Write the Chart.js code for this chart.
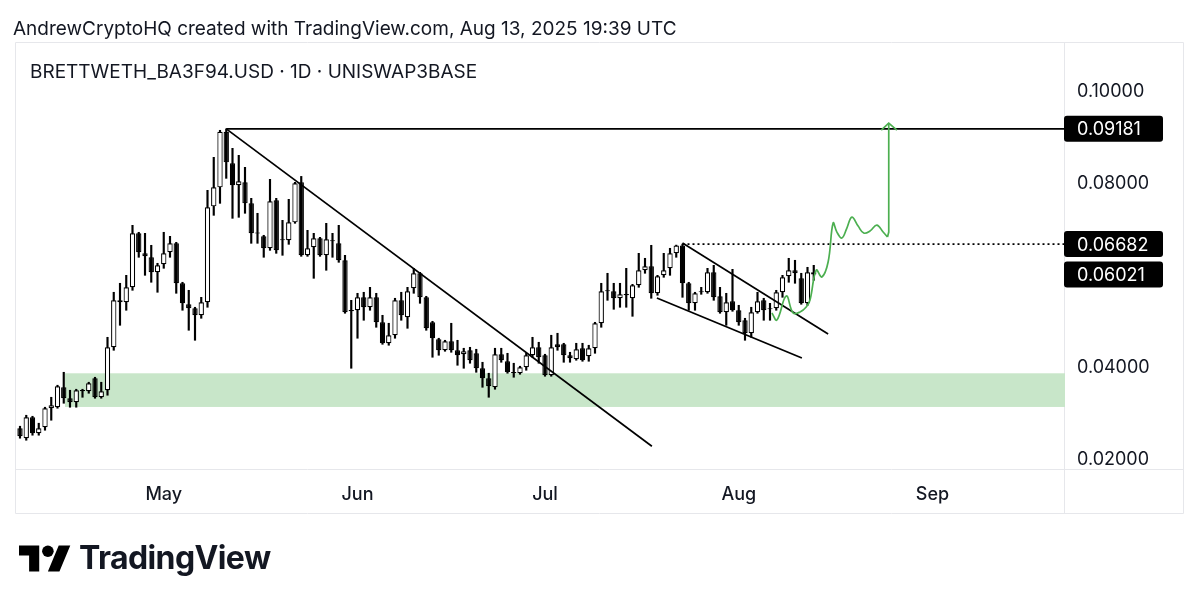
<!DOCTYPE html>
<html>
<head>
<meta charset="utf-8">
<script src="https://cdn.jsdelivr.net/npm/chart.js@4.4.0/dist/chart.umd.min.js"></script>
<style>
  html, body { margin: 0; padding: 0; background: #fff; }
  body { width: 1200px; height: 609px; position: relative; overflow: hidden; font-family: Inter, 'Noto Sans', sans-serif; color: #131722; }
  #wrap { position: absolute; left: 0; top: 0; width: 1200px; height: 609px; }
  .title { position: absolute; left: 13px; top: 17px; font-size: 19px; white-space: nowrap; }
  .symbol { position: absolute; left: 30px; top: 60px; font-size: 19px; white-space: nowrap; }
  .logo { position: absolute; left: 19px; top: 538px; display: flex; align-items: center; }
  .logo span { font-size: 32px; font-weight: 700; letter-spacing: -0.6px; margin-left: 8px; line-height: 40px; }
</style>
</head>
<body>
<div id="wrap"><canvas id="chart"></canvas></div>
<div class="title">AndrewCryptoHQ created with TradingView.com, Aug 13, 2025 19:39 UTC</div>
<div class="symbol">BRETTWETH_BA3F94.USD · 1D · UNISWAP3BASE</div>
<div class="logo">
  <svg width="52" height="27" viewBox="0 4 36 18"><path d="M14 22H7V11H0V4h14v18zM28 22h-8l7.5-18h8L28 22z" fill="#000"/><circle cx="20" cy="8" r="4" fill="#000"/></svg>
  <span>TradingView</span>
</div>
<script>
// daily candles, first one on 8 Apr 2025
const startDate = '2025-04-08';

const open = [
	0.02688, 0.02472, 0.02927, 0.02580, 0.02710, 0.03122, 0.03144, 0.03577, 0.03339, 0.03252,
	0.03490, 0.03490, 0.03772, 0.03360, 0.03512, 0.04444, 0.05463, 0.05420, 0.05745, 0.06916,
	0.06482, 0.06396, 0.06070, 0.06244, 0.06504, 0.06699, 0.05832, 0.05377, 0.05290, 0.05138,
	0.05420, 0.07501, 0.07913, 0.09120, 0.08434, 0.07957, 0.08022, 0.07566, 0.06910, 0.06851,
	0.06591, 0.07631, 0.06786, 0.06764, 0.07154, 0.08022, 0.06439, 0.06612, 0.06808, 0.06439,
	0.06764, 0.06699, 0.06331, 0.05225, 0.05247, 0.05528, 0.05312, 0.05528, 0.04986, 0.04531,
	0.04705, 0.05463, 0.05095, 0.05724, 0.06049, 0.05528, 0.04986, 0.04618, 0.04379, 0.04574,
	0.04379, 0.04293, 0.04379, 0.04314, 0.03989, 0.03772, 0.03577, 0.04293, 0.04141, 0.03902,
	0.03881, 0.04011, 0.04271, 0.04444, 0.04271, 0.03837, 0.04509, 0.04509, 0.04271, 0.04184,
	0.04423, 0.04249, 0.04423, 0.04965, 0.05658, 0.05658, 0.05507, 0.05572, 0.05507, 0.05789,
	0.06114, 0.06200, 0.05615, 0.06005, 0.06157, 0.06482, 0.06650, 0.05832, 0.05398, 0.05637,
	0.05637, 0.06070, 0.05550, 0.05203, 0.05442, 0.05247, 0.05030, 0.04748, 0.05203, 0.05463,
	0.05268, 0.05290, 0.05637, 0.05984, 0.06114, 0.05940, 0.05398, 0.06070
];
const high = [
	0.02732, 0.02970, 0.02948, 0.02797, 0.03144, 0.03360, 0.03621, 0.03902, 0.03512, 0.03534,
	0.03534, 0.03686, 0.03794, 0.03686, 0.04661, 0.05637, 0.05832, 0.06005, 0.07089, 0.06938,
	0.06916, 0.06656, 0.06266, 0.06938, 0.06851, 0.06721, 0.05854, 0.05680, 0.05312, 0.05528,
	0.07848, 0.08564, 0.09150, 0.09181, 0.08759, 0.08607, 0.08347, 0.07675, 0.07350, 0.06873,
	0.08087, 0.07675, 0.07198, 0.07653, 0.08022, 0.08150, 0.06981, 0.06916, 0.06829, 0.07133,
	0.06916, 0.07089, 0.06439, 0.05463, 0.05615, 0.05637, 0.05745, 0.05615, 0.05138, 0.04965,
	0.05507, 0.05637, 0.05745, 0.06157, 0.06070, 0.05550, 0.05008, 0.04640, 0.04596, 0.04965,
	0.04596, 0.04423, 0.04444, 0.04401, 0.04119, 0.03881, 0.04423, 0.04423, 0.04314, 0.04098,
	0.04033, 0.04314, 0.04661, 0.04553, 0.04293, 0.04705, 0.04748, 0.04531, 0.04336, 0.04531,
	0.04531, 0.04488, 0.04986, 0.05832, 0.06049, 0.05832, 0.05832, 0.06157, 0.05810, 0.06482,
	0.06374, 0.06656, 0.06005, 0.06482, 0.06591, 0.06660, 0.06682, 0.05854, 0.05637, 0.05745,
	0.06157, 0.06222, 0.05745, 0.05615, 0.06135, 0.05355, 0.05073, 0.05312, 0.05637, 0.05507,
	0.05398, 0.05680, 0.06005, 0.06374, 0.06331, 0.06049, 0.06179, 0.06222
];
const low = [
	0.02472, 0.02428, 0.02537, 0.02537, 0.02645, 0.02862, 0.03122, 0.03230, 0.03144, 0.03144,
	0.03360, 0.03447, 0.03339, 0.03339, 0.03404, 0.04379, 0.04921, 0.05247, 0.05680, 0.06396,
	0.06005, 0.05854, 0.05637, 0.06157, 0.06396, 0.05615, 0.05247, 0.04813, 0.04596, 0.05073,
	0.05312, 0.07306, 0.07566, 0.08108, 0.07241, 0.07263, 0.07350, 0.06699, 0.06699, 0.06396,
	0.06547, 0.06482, 0.06439, 0.06677, 0.07133, 0.06417, 0.06417, 0.05940, 0.06417, 0.06114,
	0.06396, 0.06287, 0.05182, 0.03989, 0.04640, 0.05030, 0.05247, 0.04878, 0.04509, 0.04488,
	0.04640, 0.05030, 0.04856, 0.05615, 0.05398, 0.04813, 0.04228, 0.04271, 0.04358, 0.04336,
	0.04054, 0.03989, 0.04098, 0.03902, 0.03577, 0.03360, 0.03534, 0.04119, 0.03881, 0.03794,
	0.03859, 0.03946, 0.04228, 0.04098, 0.03816, 0.03816, 0.04379, 0.04119, 0.04119, 0.04163,
	0.04141, 0.04141, 0.04314, 0.04878, 0.05463, 0.05268, 0.05312, 0.05312, 0.05116, 0.05745,
	0.06049, 0.05507, 0.05572, 0.05962, 0.06005, 0.06396, 0.05528, 0.05247, 0.05247, 0.05593,
	0.05615, 0.05463, 0.05182, 0.04921, 0.05225, 0.04921, 0.04596, 0.04661, 0.05182, 0.05030,
	0.05030, 0.05247, 0.05528, 0.05854, 0.05832, 0.05377, 0.05355, 0.05897
];
const close = [
	0.02515, 0.02927, 0.02580, 0.02688, 0.03122, 0.03187, 0.03599, 0.03339, 0.03252, 0.03512,
	0.03512, 0.03664, 0.03360, 0.03490, 0.04444, 0.05463, 0.05420, 0.05745, 0.06916, 0.06504,
	0.06417, 0.06070, 0.06222, 0.06482, 0.06699, 0.05832, 0.05398, 0.05290, 0.05138, 0.05420,
	0.07480, 0.07913, 0.09120, 0.08455, 0.07957, 0.08043, 0.07566, 0.06916, 0.06925, 0.06591,
	0.07610, 0.06547, 0.06764, 0.07154, 0.08000, 0.06439, 0.06591, 0.06808, 0.06439, 0.06786,
	0.06742, 0.06331, 0.05203, 0.05247, 0.05528, 0.05312, 0.05528, 0.04986, 0.04531, 0.04705,
	0.05463, 0.05138, 0.05658, 0.06049, 0.05528, 0.04856, 0.04640, 0.04379, 0.04574, 0.04379,
	0.04271, 0.04358, 0.04163, 0.03989, 0.03772, 0.03599, 0.04293, 0.04163, 0.03902, 0.03881,
	0.04011, 0.04271, 0.04444, 0.04228, 0.03837, 0.04444, 0.04444, 0.04271, 0.04206, 0.04401,
	0.04163, 0.04423, 0.04965, 0.05658, 0.05680, 0.05507, 0.05593, 0.05593, 0.05789, 0.06114,
	0.06200, 0.05615, 0.05984, 0.06114, 0.06482, 0.06650, 0.05832, 0.05398, 0.05615, 0.05658,
	0.06070, 0.05528, 0.05203, 0.05420, 0.05247, 0.04986, 0.04748, 0.05203, 0.05442, 0.05247,
	0.05290, 0.05637, 0.05962, 0.06114, 0.06049, 0.05398, 0.06070, 0.06021
];

const monthLabels = ['May', 'Jun', 'Jul', 'Aug', 'Sep'];
const yTicks = [0.02, 0.04, 0.08, 0.10];
const priceTags = [0.09181, 0.06682, 0.06021];

// visible range (day index / price)
const xMin = -0.48, xMax = 167.2;
const yMin = 0.01826, yMax = 0.11065;

// drawings, as [day index, price]
const resistance = [[33, 0.09181], [xMax, 0.09181]];
const breakoutLevel = [[106, 0.06682], [xMax, 0.06682]];
const downTrend = [[33, 0.09181], [101.1, 0.02298]];
const wedgeTop = [[106, 0.06704], [129.3, 0.04731]];
const wedgeBottom = [[101.9, 0.05512], [125.1, 0.04211]];
const projection = [
	[120.3, 0.05187], [121.1, 0.05035], [122.6, 0.05556], [123.7, 0.05187], [124.8, 0.05209],
	[125.8, 0.05317], [126.4, 0.05469], [127.4, 0.06119], [128.3, 0.05968], [129.3, 0.06293],
	[130.1, 0.07138], [130.7, 0.06943], [131.5, 0.06813], [132.3, 0.07030], [133.1, 0.07268],
	[134.1, 0.07073], [135.0, 0.06921], [136.0, 0.06965], [137.1, 0.07095], [138.1, 0.06943],
	[138.8, 0.06835]
];
const projectionArrow = [[138.8, 0.06835], [139.0, 0.06943], [139.0, 0.09306]];
const arrowHead = [[137.8, 0.09154], [139.0, 0.09306], [140.3, 0.09154]];
const supportZone = [7.2, 0.0315, 0.0388]; // from day, low, high

const dayMs = 86400000;
const t0 = Date.parse(startDate + 'T00:00:00Z');
const monthTicks = [];
for (let i = 0; i <= xMax; i++) {
	if (new Date(t0 + i * dayMs).getUTCDate() === 1) monthTicks.push(i);
}

const pts = arr => arr.map(p => ({ x: p[0], y: p[1] }));

const wicks = open.map((o, i) => ({ x: i, y: [low[i], high[i]] }));
const bodies = open.map((o, i) => {
	const lo = Math.min(o, close[i]);
	const hi = Math.max(o, close[i]);
	return { x: i, y: [lo, Math.max(hi, lo + 0.00025)] };
});
const bodyColors = open.map((o, i) => (close[i] >= o ? '#ffffff' : '#000000'));

function lineSet(data, extra) {
	return Object.assign({
		type: 'line',
		data: pts(data),
		borderColor: '#000',
		borderWidth: 1.7,
		pointRadius: 0,
		fill: false,
		order: 1
	}, extra || {});
}

const framePlugin = {
	id: 'frame',
	beforeDraw(chart) {
		const ctx = chart.ctx;
		ctx.save();
		ctx.strokeStyle = '#e6e7eb';
		ctx.lineWidth = 1;
		ctx.beginPath();
		ctx.rect(15.5, 42.5, 1168, 471);
		ctx.moveTo(15.5, 469.5); ctx.lineTo(1183.5, 469.5);
		ctx.moveTo(1064.5, 42.5); ctx.lineTo(1064.5, 513.5);
		ctx.stroke();
		ctx.restore();
	}
};

const zonePlugin = {
	id: 'zone',
	beforeDatasetsDraw(chart) {
		const { ctx, scales: { x, y }, chartArea } = chart;
		const x0 = x.getPixelForValue(supportZone[0]);
		const yTop = y.getPixelForValue(supportZone[2]);
		const yBot = y.getPixelForValue(supportZone[1]);
		ctx.save();
		ctx.fillStyle = '#c8e6c9';
		ctx.fillRect(x0, yTop, chartArea.right - x0, yBot - yTop);
		ctx.restore();
	}
};

const priceTagPlugin = {
	id: 'priceTags',
	afterDraw(chart) {
		const { ctx, scales: { y }, chartArea } = chart;
		ctx.save();
		ctx.font = '18px Inter';
		ctx.textBaseline = 'middle';
		priceTags.forEach(v => {
			const py = y.getPixelForValue(v);
			ctx.fillStyle = '#000';
			ctx.beginPath();
			ctx.roundRect(chartArea.right - 1, py - 13, 99, 26, 3);
			ctx.fill();
			ctx.fillStyle = '#fff';
			ctx.fillText(v.toFixed(5), chartArea.right + 12, py + 1);
		});
		ctx.restore();
	}
};

Chart.defaults.font.family = 'Inter';
Chart.defaults.color = '#131722';

new Chart(document.getElementById('chart'), {
	type: 'bar',
	data: {
		datasets: [
			{
				data: wicks,
				backgroundColor: '#000',
				barThickness: 1.5,
				grouped: false,
				order: 4
			},
			{
				data: bodies,
				backgroundColor: bodyColors,
				borderColor: '#000',
				borderWidth: 1.2,
				borderSkipped: false,
				barPercentage: 0.9,
				categoryPercentage: 0.95,
				grouped: false,
				order: 3
			},
			lineSet(resistance),
			lineSet(breakoutLevel, { borderDash: [2, 3] }),
			lineSet(downTrend),
			lineSet(wedgeTop),
			lineSet(wedgeBottom),
			lineSet(projection, { borderColor: '#4caf50', tension: 0.4, order: 0 }),
			lineSet(projectionArrow, { borderColor: '#4caf50', order: 0 }),
			lineSet(arrowHead, { borderColor: '#4caf50', order: 0 })
		]
	},
	options: {
		responsive: true,
		maintainAspectRatio: false,
		animation: false,
		events: [],
		layout: { padding: { left: 17, top: 42, right: 0, bottom: 96 } },
		plugins: { legend: { display: false }, tooltip: { enabled: false } },
		scales: {
			x: {
				type: 'linear',
				min: xMin,
				max: xMax,
				offset: false,
				grid: { display: false, drawTicks: false },
				border: { display: false },
				afterBuildTicks: scale => { scale.ticks = monthTicks.map(v => ({ value: v })); },
				afterFit: scale => { scale.height = 45; },
				ticks: {
					autoSkip: false,
					maxRotation: 0,
					padding: 16,
					font: { size: 18, weight: 500 },
					callback: (v, i) => monthLabels[i]
				}
			},
			y: {
				position: 'right',
				min: yMin,
				max: yMax,
				grid: { display: false, drawTicks: false },
				border: { display: false },
				afterBuildTicks: scale => { scale.ticks = yTicks.map(v => ({ value: v })); },
				afterFit: scale => { scale.width = 135; },
				ticks: {
					padding: 12,
					font: { size: 18 },
					callback: v => v.toFixed(5)
				}
			}
		}
	},
	plugins: [framePlugin, zonePlugin, priceTagPlugin]
});
</script>
</body>
</html>
